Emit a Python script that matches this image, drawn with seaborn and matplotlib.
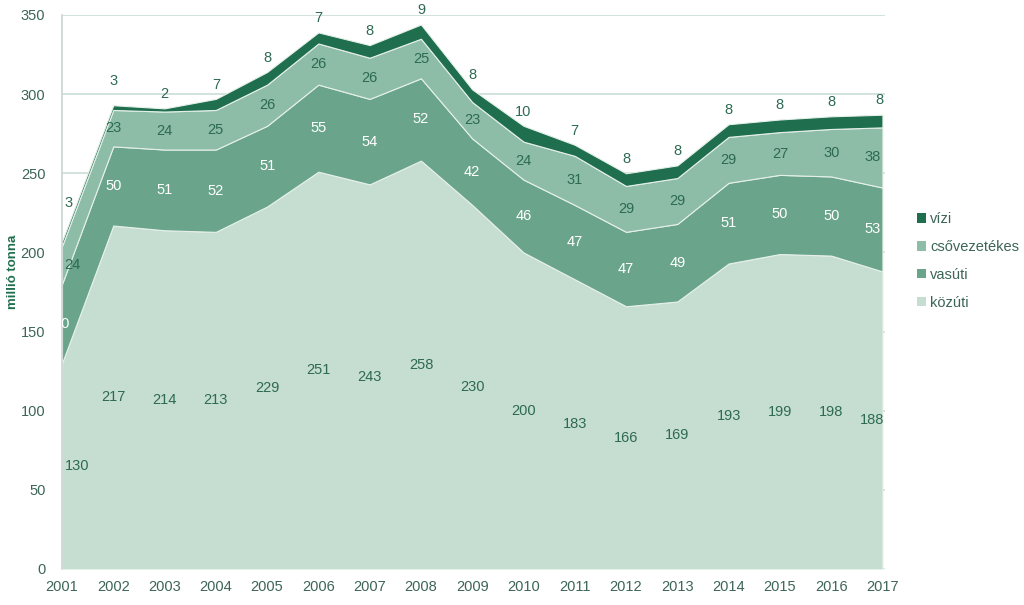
import matplotlib
matplotlib.use("Agg")
import matplotlib.pyplot as plt
import seaborn as sns
import pandas as pd
from matplotlib.patches import Patch

years = list(range(2001, 2018))
kozuti = [130, 217, 214, 213, 229, 251, 243, 258, 230, 200, 183, 166, 169, 193, 199, 198, 188]
vasuti = [50, 50, 51, 52, 51, 55, 54, 52, 42, 46, 47, 47, 49, 51, 50, 50, 53]
csovezetekes = [24, 23, 24, 25, 26, 26, 26, 25, 23, 24, 31, 29, 29, 29, 27, 30, 38]
vizi = [3, 3, 2, 7, 8, 7, 8, 9, 8, 10, 7, 8, 8, 8, 8, 8, 8]

names = ["közúti", "vasúti", "csővezetékes", "vízi"]
colors = ["#c6ddd2", "#6aa58b", "#8dbca7", "#1f6f4f"]
label_colors = ["#2d6a52", "white", "#2d6a52", "#2d6a52"]

df = pd.DataFrame({"év": years, "közúti": kozuti, "vasúti": vasuti,
                   "csővezetékes": csovezetekes, "vízi": vizi}).set_index("év")

sns.set_theme(style="white")
plt.rcParams["font.family"] = ["Liberation Sans", "DejaVu Sans"]

fig = plt.figure(figsize=(10.24, 6.05), dpi=100)
ax = fig.add_axes([62 / 1024, 1 - 569 / 605, (885 - 62) / 1024, (569 - 15) / 605])

ax.stackplot(df.index, [df[n] for n in names], colors=colors,
             edgecolor="#e6f0eb", linewidth=0.8, zorder=2)

ax.set_xlim(2001, 2017.05)
ax.set_ylim(0, 350)
ax.set_yticks(range(0, 351, 50))
ax.set_xticks(years)
ax.grid(axis="y", color="#c9ddd5", linewidth=1.2, zorder=0)
ax.grid(axis="x", visible=False)
for s in ["top", "right", "bottom"]:
    ax.spines[s].set_visible(False)
ax.spines["left"].set_color("#c9d6d1")
ax.spines["left"].set_linewidth(1.2)
ax.tick_params(axis="y", length=0, pad=12, labelsize=10.5, labelcolor="#3c6557")
ax.tick_params(axis="x", length=0, pad=8, labelsize=10.5, labelcolor="#3c6557")

# data labels
bottom = [0] * len(years)
for i, n in enumerate(names):
    vals = df[n].tolist()
    for j, (y, v) in enumerate(zip(years, vals)):
        if n == "vízi":
            ypos = bottom[j] + v + (24 if j == 0 else (15 if j == 1 else 9))
        else:
            ypos = bottom[j] + v / 2
        x = y
        ha = "center"
        if j == 0 and n != "vasúti":
            x = y + 0.05
            ha = "left"
        if j == len(years) - 1:
            x = y - (0.05 if n == "vízi" else 0.2)
        ax.text(x, ypos, str(v), ha=ha, va="center", fontsize=10.5,
                color=label_colors[i], zorder=5, clip_on=(j == 0))
    bottom = [b + v for b, v in zip(bottom, vals)]

fig.text(13 / 1024, 1 - 272 / 605, "millió tonna", rotation=90, ha="center",
         va="center", fontsize=9.5, fontweight="bold", color="#1f6f4f")

handles = [Patch(facecolor=c, edgecolor="none") for c in colors][::-1]
leg = fig.legend(handles, names[::-1], loc="center left",
                 bbox_to_anchor=(910 / 1024, 1 - 261 / 605), frameon=False,
                 fontsize=10.5, handlelength=0.6, handleheight=0.6,
                 handletextpad=0.3, labelspacing=0.95, borderpad=0)
for t in leg.get_texts():
    t.set_color("#3c6557")

fig.savefig("out.png", dpi=100)
